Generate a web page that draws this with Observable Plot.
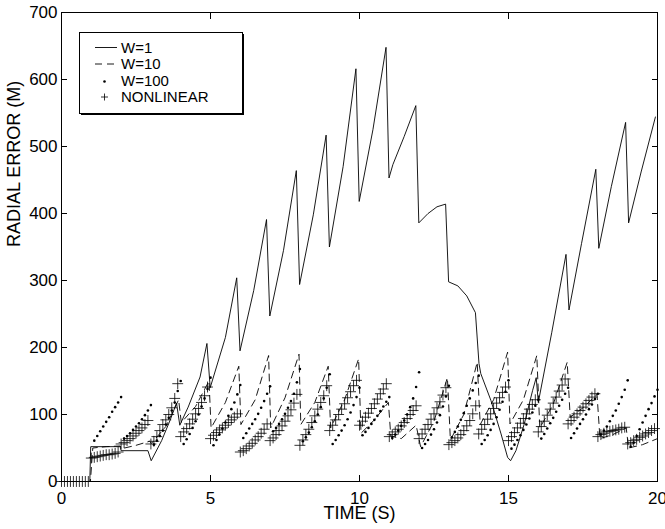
<!DOCTYPE html>
<html><head><meta charset="utf-8">
<script src="https://cdn.jsdelivr.net/npm/d3@7"></script>
<script src="https://cdn.jsdelivr.net/npm/@observablehq/plot@0.6"></script>
<style>
body{margin:0;background:#fff;}
#chart{width:665px;height:529px;}
</style></head><body><div id="chart"></div>
<script>
// ---- tick values ----
const xTicks = [0, 5, 10, 15, 20];
const yTicks = [0, 100, 200, 300, 400, 500, 600, 700];
const legendLabels = ["W=1", "W=10", "W=100", "NONLINEAR"];
const xLabel = "TIME (S)";
const yLabel = "RADIAL ERROR (M)";

// ---- W=1 (solid line) vertices ----
const w1Time = [0,0.95,0.98,1.97,2.0,2.9,3.01,3.36,3.64,3.86,3.97,4.25,4.65,4.88,4.99,5.5,5.88,5.99,6.45,6.88,6.99,7.45,7.88,7.99,8.45,8.88,8.99,9.45,9.88,9.99,10.45,10.89,10.99,11.12,11.5,11.89,11.99,12.3,12.6,12.89,12.99,13.3,13.6,13.89,14.01,14.07,14.41,14.75,14.97,15.07,15.25,15.53,15.81,15.93,16.0,16.45,16.93,17.03,17.45,17.93,18.03,18.45,18.93,19.03,19.45,19.93];
const w1Error = [0,0,52,52,46,46,31,61,91,117,84,111,156,206,140,215,304,195,285,391,247,345,464,294,398,517,350,470,616,418,525,648,453,473,515,561,386,400,410,414,298,292,277,252,176,161,121,71,36,31,46,86,136,155,118,222,339,256,355,466,348,440,536,386,462,544];

// ---- W=10 (dashed line) vertices ----
const w10Time = [0,0.97,1.05,1.5,1.97,2.02,2.5,2.95,3.02,3.5,3.93,4.02,4.5,4.95,5.02,5.5,5.95,6.02,6.5,6.95,7.02,7.5,7.97,8.03,8.5,8.95,9.03,9.5,9.97,10.05,10.5,10.97,11.05,11.4,11.9,12.05,12.5,12.95,13.05,13.5,13.95,14.05,14.5,14.97,15.05,15.5,15.95,16.05,16.5,16.97,17.07,17.5,17.97,18.07,18.5,18.95,19.03,19.5,20];
const w10Error = [0,0,50,52,53,49,54,60,57,82,122,88,112,150,80,118,172,85,122,188,80,125,190,85,118,172,80,122,183,72,92,118,68,64,84,52,90,155,62,100,178,85,122,193,86,122,188,80,115,178,96,110,130,64,70,80,50,55,64];

// ---- NONLINEAR (+ markers): one row per second, samples at k+0.0 ... k+0.9 ----
const nonlinearFirstSecond = 0;
const nonlinearRows = [
  [0,0,0,0,0,0,0,0,0,0],
  [35,36,37,38,39,40,40,41,42,44],
  [56,58,61,64,68,72,76,80,85,91],
  [56,60,67,76,85,92,100,110,124,146],
  [67,74,79,86,93,101,109,118,128,141],
  [64,69,73,77,80,84,88,92,96,101],
  [44,46,49,53,57,62,67,72,78,86],
  [61,65,70,76,83,90,98,107,117,130],
  [54,62,70,78,88,98,108,118,128,143],
  [76,84,92,100,108,116,125,134,143,151],
  [84,90,96,102,109,116,123,131,138,146],
  [67,70,74,78,83,88,94,100,106,113],
  [64,71,78,85,93,101,110,119,129,140],
  [55,58,61,65,70,76,83,91,101,113],
  [71,78,85,93,101,109,117,125,133,141],
  [61,67,73,80,87,94,101,108,115,122],
  [74,82,90,99,108,117,126,135,144,153],
  [86,91,96,101,106,111,116,121,126,131],
  [67,70,72,74,75,76,77,78,80,81],
  [56,58,61,63,66,68,71,73,76,79]
];

// ---- W=100 (dots): one row per second, samples at k+0.1 ... k+1.0 ----
const w100FirstSecond = 1;
const w100Rows = [
  [61,68,75,82,89,96,104,111,118,126],
  [64,68,72,77,82,87,93,99,106,114],
  [55,61,68,76,85,95,106,118,135,150],
  [56,63,71,80,90,100,112,124,138,155],
  [54,62,70,79,88,98,108,118,130,144],
  [65,72,79,86,93,101,110,120,131,142],
  [75,80,86,93,101,110,120,131,148,168],
  [60,66,73,81,90,100,111,124,140,160],
  [56,62,69,76,84,93,103,114,126,140],
  [69,74,80,86,92,98,105,112,119,126],
  [65,70,76,83,91,100,111,124,141,163],
  [50,56,62,70,78,88,99,112,127,143],
  [66,74,82,92,102,113,124,136,147,158],
  [56,62,69,77,86,96,107,119,134,151],
  [49,55,62,69,77,85,94,103,113,122],
  [64,71,79,87,95,104,113,122,131,140],
  [65,72,79,86,93,100,108,115,123,131],
  [70,76,82,90,98,106,116,126,137,151],
  [52,58,68,78,88,98,108,117,127,137]
];
const sampleStep = 0.1;

// ---- build tables ----
const w1 = w1Time.map((t, i) => ({t, y: w1Error[i]}));
const w10 = w10Time.map((t, i) => ({t, y: w10Error[i]}));
const nonlinear = nonlinearRows.flatMap((row, k) => row.map((y, j) => ({t: nonlinearFirstSecond + k + j * sampleStep, y})));
const w100 = w100Rows.flatMap((row, k) => row.map((y, j) => ({t: w100FirstSecond + k + (j + 1) * sampleStep, y})));

const FONT = "'Liberation Sans', Arial, Helvetica, sans-serif";

const chart = Plot.plot({
  width: 665, height: 529,
  marginLeft: 61, marginRight: 8, marginTop: 12, marginBottom: 48,
  style: {fontFamily: FONT, fontSize: "17px", background: "white", color: "black"},
  x: {domain: [0, 20]},
  y: {domain: [0, 700]},
  marks: [
    Plot.frame({stroke: "black", strokeWidth: 1}),
    Plot.axisX(xTicks, {anchor: "bottom", tickSize: -6, tickPadding: 16, label: null, fontSize: 17}),
    Plot.axisX(xTicks, {anchor: "top", tickSize: -6, fill: "none", label: null}),
    Plot.axisY(yTicks, {anchor: "left", tickSize: -6, tickPadding: 10, label: null, fontSize: 17}),
    Plot.axisY(yTicks, {anchor: "right", tickSize: -6, fill: "none", label: null}),
    Plot.line(w1, {x: "t", y: "y", stroke: "black", strokeWidth: 0.9}),
    Plot.line(w10, {x: "t", y: "y", stroke: "black", strokeWidth: 0.9, strokeDasharray: "7,5"}),
    Plot.dot(w100, {x: "t", y: "y", r: 1.3, fill: "black", stroke: null}),
    Plot.dot(nonlinear, {x: "t", y: "y", symbol: "plus", r: 3.6, stroke: "black", strokeWidth: 0.8}),
    Plot.text([xLabel], {text: d => d, frameAnchor: "bottom", dy: 37, fontSize: 18, fill: "black"}),
    Plot.text([yLabel], {text: d => d, frameAnchor: "left", rotate: -90, dx: -47, fontSize: 18, fill: "black"})
  ]
});
document.getElementById("chart").appendChild(chart);

// ---- legend box (inside the plot area, top-left) ----
const svg = d3.select(chart);
const lg = svg.append("g").attr("font-family", FONT).attr("font-size", 15).attr("fill", "black").attr("text-anchor", "start");
const box = {x: 79.5, y: 32.5, w: 163, h: 81};
lg.append("rect").attr("x", box.x + 1.5).attr("y", box.y + 1.5).attr("width", box.w).attr("height", box.h).attr("fill", "black");
lg.append("rect").attr("x", box.x).attr("y", box.y).attr("width", box.w).attr("height", box.h).attr("fill", "white").attr("stroke", "black").attr("stroke-width", 1);
const rowY = i => 47.5 + i * 16.5;
legendLabels.forEach((lab, i) => {
  const cy = rowY(i);
  if (i === 0) lg.append("line").attr("x1", 95).attr("x2", 117).attr("y1", cy).attr("y2", cy).attr("stroke", "black").attr("stroke-width", 0.9);
  if (i === 1) lg.append("line").attr("x1", 95).attr("x2", 116).attr("y1", cy).attr("y2", cy).attr("stroke", "black").attr("stroke-width", 0.9).attr("stroke-dasharray", "7,5");
  if (i === 2) lg.append("circle").attr("cx", 104.5).attr("cy", cy + 1).attr("r", 1.3).attr("fill", "black");
  if (i === 3) lg.append("path").attr("d", `M101,${cy}h7M104.5,${cy - 3.5}v7`).attr("stroke", "black").attr("stroke-width", 0.8).attr("fill", "none");
  lg.append("text").attr("x", 121).attr("y", cy).attr("dy", "0.35em").attr("text-anchor", "start").text(lab);
});
</script>
</body></html>
